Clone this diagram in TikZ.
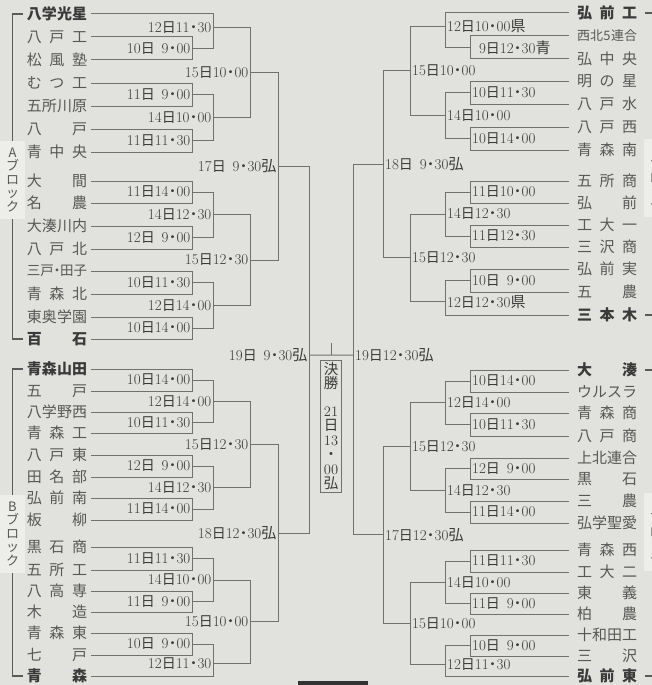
\documentclass[tikz,border=0pt]{standalone}
\usepackage{fontspec}
\newfontfamily\jp{Noto Sans CJK JP}
\usetikzlibrary{calc}

\definecolor{paper}{HTML}{E1E2DD}
\definecolor{ink}{HTML}{707070}
\definecolor{txt}{HTML}{3A3A3A}
\definecolor{tag}{HTML}{EDEDE9}

% date label: day, hour, minute
\newcommand\z{\hphantom{0}}
\newcommand\hm[3]{#1{\jp\fontsize{14}{14}\selectfont 日}#2\makebox[8pt]{\jp\fontsize{14}{14}\selectfont ・}#3}
% team name spread over four characters
\newcommand\tm[1]{\makebox[60pt][s]{#1}}
% one game: inputs, column, output point, date
\newcommand\lmatch[6]{%
  \draw[br] (#1) -- (#1 -| #3) -- (#2 -| #3) -- (#2);
  \coordinate (#5) at ($(#1 -| #3)!#4!(#2 -| #3)$);
  \node[dl, anchor=east, xshift=-1.5pt] (#5t) at (#5) {#6};}
\newcommand\rmatch[6]{%
  \draw[br] (#1) -- (#1 -| #3) -- (#2 -| #3) -- (#2);
  \coordinate (#5) at ($(#1 -| #3)!#4!(#2 -| #3)$);
  \node[dl, anchor=west, xshift=2pt] (#5t) at (#5) {#6};}

\begin{document}
\begin{tikzpicture}[x=1pt, y=-1pt,
  br/.style={draw=ink, line width=1pt},
  blk/.style={draw=ink!80!black, line width=1.3pt},
  dl/.style={inner sep=0, text=txt, font=\fontsize{15}{15}\selectfont},
  tl/.style={anchor=west, inner sep=0, outer xsep=4pt, text=txt!85,
    font=\jp\fontsize{15}{15}\selectfont},
  tr/.style={tl, outer xsep=8pt},
  bt/.style={fill=tag, inner sep=0, minimum width=25pt, minimum height=78pt,
    align=center, text=txt!85, font=\jp\fontsize{13}{13.5}\selectfont}]
  \useasboundingbox (0,0) rectangle (652,685);
  \fill[paper] (0,0) rectangle (652,685);
  \clip (0,0) rectangle (652,685);

  % columns
  \coordinate (l1) at (192,0); \coordinate (l2) at (213,0);
  \coordinate (l3) at (250,0); \coordinate (l4) at (278,0);
  \coordinate (l5) at (309,0);
  \coordinate (r1) at (470,0); \coordinate (r2) at (445,0);
  \coordinate (r3) at (410,0); \coordinate (r4) at (383,0);
  \coordinate (r5) at (353,0);

  % Block A
  \foreach \nm/\yy [count=\i] in {{\bfseries\color{txt}八学光星}/14, {八\hfill 戸\hfill 工}/37,
      {松\hfill 風\hfill 塾}/60, {む\hfill つ\hfill 工}/83, {五所川原}/106, {八\hfill 戸}/129,
      {青\hfill 中\hfill 央}/152, {大\hfill 間}/181, {名\hfill 農}/203, {大湊川内}/226,
      {八\hfill 戸\hfill 北}/249, {\fontsize{13.5}{13.5}\selectfont 三戸\makebox[6pt]{・}田子}/271,
      {青\hfill 森\hfill 北}/294, {東奥学園}/317, {\bfseries\color{txt}百\hfill 石}/339}
    \node[tl] (la\i) at (23,\yy) {\tm{\nm}};
  \node[bt] (blkA) at (12.5,180) {A\\ブ\\ロ\\ッ\\ク};
  \draw[blk] (la1.west) -| (blkA.north);
  \draw[blk] (la15.west) -| (blkA.south);

  \lmatch{la2.east}{la3.east}{l1}{0.5}{a1}{\hm{10}{\z9}{00}}
  \lmatch{la1.east}{a1}{l2}{0.38}{a2}{\hm{12}{11}{30}}
  \lmatch{la4.east}{la5.east}{l1}{0.5}{a3}{\hm{11}{\z9}{00}}
  \lmatch{la6.east}{la7.east}{l1}{0.5}{a4}{\hm{11}{11}{30}}
  \lmatch{a3}{a4}{l2}{0.5}{a5}{\hm{14}{10}{00}}
  \lmatch{a2}{a5}{l3}{0.5}{a6}{\hm{15}{10}{00}}
  \lmatch{la8.east}{la9.east}{l1}{0.5}{a7}{\hm{11}{14}{00}}
  \lmatch{la10.east}{la11.east}{l1}{0.5}{a8}{\hm{12}{\z9}{00}}
  \lmatch{a7}{a8}{l2}{0.5}{a9}{\hm{14}{12}{30}}
  \lmatch{la12.east}{la13.east}{l1}{0.5}{a10}{\hm{10}{11}{30}}
  \lmatch{la14.east}{la15.east}{l1}{0.5}{a11}{\hm{10}{14}{00}}
  \lmatch{a10}{a11}{l2}{0.5}{a12}{\hm{12}{14}{00}}
  \lmatch{a9}{a12}{l3}{0.5}{a13}{\hm{15}{12}{30}}
  \lmatch{a6}{a13}{l4}{0.5}{a14}{\hm{17}{\z9}{30}{\jp 弘}}

  % Block B
  \foreach \nm/\yy [count=\i] in {{\bfseries\color{txt}青森山田}/369, {五\hfill 戸}/391,
      {八学野西}/412, {青\hfill 森\hfill 工}/433, {八\hfill 戸\hfill 東}/455, {田\hfill 名\hfill 部}/477,
      {弘\hfill 前\hfill 南}/498, {板\hfill 柳}/520, {黒\hfill 石\hfill 商}/547, {五\hfill 所\hfill 工}/570,
      {八\hfill 高\hfill 専}/591, {木\hfill 造}/612, {青\hfill 森\hfill 東}/633, {七\hfill 戸}/655,
      {\bfseries\color{txt}青\hfill 森}/676}
    \node[tl] (lb\i) at (23,\yy) {\tm{\nm}};
  \node[bt] (blkB) at (12.5,534) {B\\ブ\\ロ\\ッ\\ク};
  \draw[blk] (lb1.west) -| (blkB.north);
  \draw[blk] (lb15.west) -| (blkB.south);

  \lmatch{lb1.east}{lb2.east}{l1}{0.5}{b1}{\hm{10}{14}{00}}
  \lmatch{lb3.east}{lb4.east}{l1}{0.5}{b2}{\hm{10}{11}{30}}
  \lmatch{b1}{b2}{l2}{0.5}{b3}{\hm{12}{14}{00}}
  \lmatch{lb5.east}{lb6.east}{l1}{0.5}{b4}{\hm{12}{\z9}{00}}
  \lmatch{lb7.east}{lb8.east}{l1}{0.5}{b5}{\hm{11}{14}{00}}
  \lmatch{b4}{b5}{l2}{0.5}{b6}{\hm{14}{12}{30}}
  \lmatch{b3}{b6}{l3}{0.5}{b7}{\hm{15}{12}{30}}
  \lmatch{lb9.east}{lb10.east}{l1}{0.5}{b8}{\hm{11}{11}{30}}
  \lmatch{lb11.east}{lb12.east}{l1}{0.5}{b9}{\hm{11}{\z9}{00}}
  \lmatch{b8}{b9}{l2}{0.5}{b10}{\hm{14}{10}{00}}
  \lmatch{lb13.east}{lb14.east}{l1}{0.5}{b11}{\hm{10}{\z9}{00}}
  \lmatch{b11}{lb15.east}{l2}{0.62}{b12}{\hm{12}{11}{30}}
  \lmatch{b10}{b12}{l3}{0.5}{b13}{\hm{15}{10}{00}}
  \lmatch{b7}{b13}{l4}{0.5}{b14}{\hm{18}{12}{30}{\jp 弘}}

  % Block C
  \foreach \nm/\yy [count=\i] in {{\bfseries\color{txt}弘\hfill 前\hfill 工}/13,
      {\fontsize{13}{13}\selectfont 西北\hfill 5\hfill 連合}/36, {弘\hfill 中\hfill 央}/59,
      {明\hfill の\hfill 星}/81, {八\hfill 戸\hfill 水}/104, {八\hfill 戸\hfill 西}/127,
      {青\hfill 森\hfill 南}/150, {五\hfill 所\hfill 商}/181, {弘\hfill 前}/203,
      {工\hfill 大\hfill 一}/225, {三\hfill 沢\hfill 商}/247, {弘\hfill 前\hfill 実}/269,
      {五\hfill 農}/292, {\bfseries\color{txt}三\hfill 本\hfill 木}/315}
    \node[tr] (ra\i) at (569,\yy) {\tm{\nm}};
  \node[bt] (blkC) at (656,178) {C\\ブ\\ロ\\ッ\\ク};
  \draw[blk] (ra1.east) -| (blkC.north);
  \draw[blk] (ra14.east) -| (blkC.south);

  \rmatch{ra2.west}{ra3.west}{r1}{0.5}{c1}{\hm{\z9}{12}{30}{\jp 青}}
  \rmatch{ra1.west}{c1}{r2}{0.38}{c2}{\hm{12}{10}{00}{\jp 県}}
  \rmatch{ra4.west}{ra5.west}{r1}{0.5}{c3}{\hm{10}{11}{30}}
  \rmatch{ra6.west}{ra7.west}{r1}{0.5}{c4}{\hm{10}{14}{00}}
  \rmatch{c3}{c4}{r2}{0.5}{c5}{\hm{14}{10}{00}}
  \rmatch{c2}{c5}{r3}{0.5}{c6}{\hm{15}{10}{00}}
  \rmatch{ra8.west}{ra9.west}{r1}{0.5}{c7}{\hm{11}{10}{00}}
  \rmatch{ra10.west}{ra11.west}{r1}{0.5}{c8}{\hm{11}{12}{30}}
  \rmatch{c7}{c8}{r2}{0.5}{c9}{\hm{14}{12}{30}}
  \rmatch{ra12.west}{ra13.west}{r1}{0.5}{c10}{\hm{10}{\z9}{00}}
  \rmatch{c10}{ra14.west}{r2}{0.62}{c11}{\hm{12}{12}{30}{\jp 県}}
  \rmatch{c9}{c11}{r3}{0.5}{c12}{\hm{15}{12}{30}}
  \rmatch{c6}{c12}{r4}{0.5}{c13}{\hm{18}{\z9}{30}{\jp 弘}}

  % Block D
  \foreach \nm/\yy [count=\i] in {{\bfseries\color{txt}大\hfill 湊}/370, {ウルスラ}/392,
      {青\hfill 森\hfill 商}/413, {八\hfill 戸\hfill 商}/436, {上北連合}/458, {黒\hfill 石}/479,
      {三\hfill 農}/501, {弘学聖愛}/523, {青\hfill 森\hfill 西}/550, {工\hfill 大\hfill 二}/572,
      {東\hfill 義}/593, {柏\hfill 農}/614, {十和田工}/635, {三\hfill 沢}/656,
      {\bfseries\color{txt}弘\hfill 前\hfill 東}/676}
    \node[tr] (rb\i) at (569,\yy) {\tm{\nm}};
  \node[bt] (blkD) at (656,532) {D\\ブ\\ロ\\ッ\\ク};
  \draw[blk] (rb1.east) -| (blkD.north);
  \draw[blk] (rb15.east) -| (blkD.south);

  \rmatch{rb1.west}{rb2.west}{r1}{0.5}{d1}{\hm{10}{14}{00}}
  \rmatch{rb3.west}{rb4.west}{r1}{0.5}{d2}{\hm{10}{11}{30}}
  \rmatch{d1}{d2}{r2}{0.5}{d3}{\hm{12}{14}{00}}
  \rmatch{rb5.west}{rb6.west}{r1}{0.5}{d4}{\hm{12}{\z9}{00}}
  \rmatch{rb7.west}{rb8.west}{r1}{0.5}{d5}{\hm{11}{14}{00}}
  \rmatch{d4}{d5}{r2}{0.5}{d6}{\hm{14}{12}{30}}
  \rmatch{d3}{d6}{r3}{0.5}{d7}{\hm{15}{12}{30}}
  \rmatch{rb9.west}{rb10.west}{r1}{0.5}{d8}{\hm{11}{11}{30}}
  \rmatch{rb11.west}{rb12.west}{r1}{0.5}{d9}{\hm{11}{\z9}{00}}
  \rmatch{d8}{d9}{r2}{0.5}{d10}{\hm{14}{10}{00}}
  \rmatch{rb13.west}{rb14.west}{r1}{0.5}{d11}{\hm{10}{\z9}{00}}
  \rmatch{d11}{rb15.west}{r2}{0.62}{d12}{\hm{12}{11}{30}}
  \rmatch{d10}{d12}{r3}{0.5}{d13}{\hm{15}{10}{00}}
  \rmatch{d7}{d13}{r4}{0.5}{d14}{\hm{17}{12}{30}{\jp 弘}}

  % Semifinals and final
  \lmatch{a14}{b14}{l5}{0.515}{sl}{\hm{19}{\z9}{30}{\jp 弘}}
  \rmatch{c13}{d14}{r5}{0.515}{sr}{\hm{19}{12}{30}{\jp 弘}}
  \draw[br] (sl) -- (sr);
  \coordinate (fin) at ($(sl)!0.5!(sr)$);
  \draw[br] (fin) -- ++(0,-12);
  \node[draw=ink, line width=1pt, minimum width=21pt, minimum height=132pt, inner sep=0,
    align=center, text=txt, font=\fontsize{14.5}{14.5}\selectfont] (final) at (331,426)
    {{\jp 決}\\{\jp 勝}\\[13pt]21\\{\jp 日}\\13\\{\jp ・}\\00\\{\jp 弘}};

  % cut edge at the bottom
  \fill[black!80] (298,681) rectangle (368,690);
\end{tikzpicture}
\end{document}
